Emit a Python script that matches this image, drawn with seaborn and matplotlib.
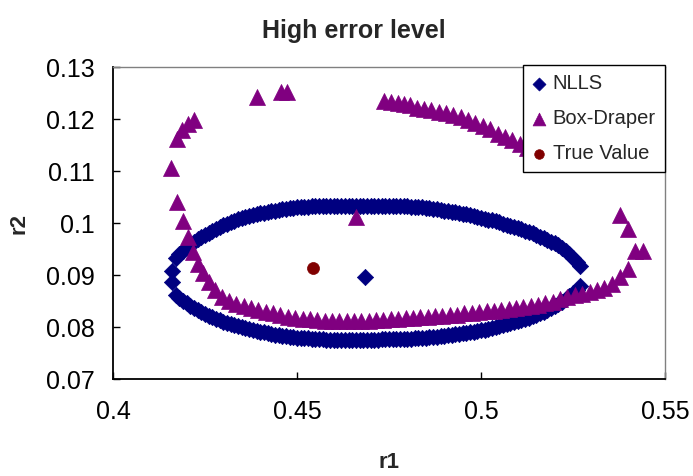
import numpy as np
import pandas as pd
import matplotlib
matplotlib.use("Agg")
import matplotlib.pyplot as plt
import seaborn as sns

# ---------------- data ----------------
nlls_r1 = [0.416, 0.417, 0.418, 0.419, 0.420, 0.421, 0.422, 0.423, 0.424, 0.425,
           0.426, 0.427, 0.428, 0.429, 0.430, 0.431, 0.432, 0.433, 0.434, 0.435,
           0.436, 0.437, 0.438, 0.439, 0.440, 0.441, 0.442, 0.443, 0.444, 0.445,
           0.446, 0.447, 0.448, 0.449, 0.450, 0.451, 0.452, 0.453, 0.454, 0.455,
           0.456, 0.457, 0.458, 0.459, 0.460, 0.461, 0.462, 0.463, 0.464, 0.465,
           0.466, 0.467, 0.468, 0.469, 0.470, 0.471, 0.472, 0.473, 0.474, 0.475,
           0.476, 0.477, 0.478, 0.479, 0.480, 0.481, 0.482, 0.483, 0.484, 0.485,
           0.486, 0.487, 0.488, 0.489, 0.490, 0.491, 0.492, 0.493, 0.494, 0.495,
           0.496, 0.497, 0.498, 0.499, 0.500, 0.501, 0.502, 0.503, 0.504, 0.505,
           0.506, 0.507, 0.508, 0.509, 0.510, 0.511, 0.512, 0.513, 0.514, 0.515,
           0.516, 0.517, 0.518, 0.519, 0.520, 0.521, 0.522, 0.523, 0.524, 0.525,
           0.526, 0.527]
nlls_upper_r2 = [0.0908, 0.0932, 0.0940, 0.0947, 0.0953, 0.0959, 0.0964, 0.0969, 0.0973, 0.0977,
                 0.0981, 0.0985, 0.0989, 0.0992, 0.0996, 0.0999, 0.1002, 0.1004, 0.1007, 0.1009,
                 0.1011, 0.1013, 0.1015, 0.1017, 0.1019, 0.1020, 0.1022, 0.1023, 0.1024, 0.1025,
                 0.1026, 0.1027, 0.1028, 0.1029, 0.1030, 0.1030, 0.1031, 0.1031, 0.1032, 0.1032,
                 0.1032, 0.1033, 0.1033, 0.1033, 0.1033, 0.1033, 0.1033, 0.1033, 0.1033, 0.1033,
                 0.1033, 0.1033, 0.1033, 0.1033, 0.1033, 0.1033, 0.1033, 0.1033, 0.1033, 0.1033,
                 0.1033, 0.1032, 0.1032, 0.1032, 0.1032, 0.1031, 0.1031, 0.1031, 0.1030, 0.1029,
                 0.1028, 0.1027, 0.1026, 0.1025, 0.1024, 0.1023, 0.1022, 0.1021, 0.1020, 0.1018,
                 0.1017, 0.1015, 0.1014, 0.1012, 0.1010, 0.1008, 0.1006, 0.1005, 0.1003, 0.1001,
                 0.0999, 0.0997, 0.0995, 0.0993, 0.0990, 0.0988, 0.0985, 0.0983, 0.0980, 0.0977,
                 0.0974, 0.0971, 0.0968, 0.0964, 0.0961, 0.0957, 0.0952, 0.0946, 0.0940, 0.0933,
                 0.0925, 0.0917]
nlls_lower_r2 = [0.0886, 0.0862, 0.0855, 0.0850, 0.0846, 0.0841, 0.0836, 0.0832, 0.0828, 0.0825,
                 0.0822, 0.0819, 0.0816, 0.0813, 0.0810, 0.0808, 0.0806, 0.0804, 0.0802, 0.0800,
                 0.0798, 0.0796, 0.0794, 0.0793, 0.0791, 0.0790, 0.0788, 0.0787, 0.0785, 0.0784,
                 0.0783, 0.0782, 0.0781, 0.0780, 0.0779, 0.0779, 0.0778, 0.0778, 0.0777, 0.0777,
                 0.0776, 0.0776, 0.0775, 0.0775, 0.0775, 0.0775, 0.0775, 0.0775, 0.0775, 0.0775,
                 0.0775, 0.0775, 0.0775, 0.0775, 0.0775, 0.0775, 0.0775, 0.0776, 0.0776, 0.0776,
                 0.0776, 0.0777, 0.0777, 0.0777, 0.0777, 0.0777, 0.0778, 0.0778, 0.0778, 0.0779,
                 0.0780, 0.0780, 0.0781, 0.0782, 0.0783, 0.0784, 0.0785, 0.0786, 0.0787, 0.0788,
                 0.0789, 0.0790, 0.0791, 0.0793, 0.0794, 0.0795, 0.0797, 0.0798, 0.0800, 0.0801,
                 0.0803, 0.0805, 0.0807, 0.0809, 0.0811, 0.0813, 0.0816, 0.0818, 0.0821, 0.0824,
                 0.0826, 0.0829, 0.0833, 0.0836, 0.0840, 0.0844, 0.0849, 0.0854, 0.0860, 0.0866,
                 0.0872, 0.0879]
nlls_extra_r1 = [0.4685]
nlls_extra_r2 = [0.0896]

bd_left_r1 = [0.4157, 0.4173, 0.4189, 0.4204, 0.4218, 0.4232, 0.4245, 0.4262, 0.4277,
              0.4173, 0.4188, 0.4205, 0.4220, 0.4390, 0.4457, 0.4472, 0.4660]
bd_left_r2 = [0.1106, 0.1041, 0.1003, 0.0974, 0.0945, 0.0922, 0.0903, 0.0886, 0.0871,
              0.1161, 0.1179, 0.1190, 0.1199, 0.1242, 0.1251, 0.1251, 0.1012]
bd_low_r1 = [0.4295, 0.4315, 0.4335, 0.4355, 0.4375, 0.4395, 0.4415, 0.4435, 0.4455, 0.4475,
             0.4495, 0.4515, 0.4535, 0.4555, 0.4575, 0.4595, 0.4615, 0.4635, 0.4655, 0.4675,
             0.4695, 0.4715, 0.4735, 0.4755, 0.4775, 0.4795, 0.4815, 0.4835, 0.4855, 0.4875,
             0.4895, 0.4915, 0.4935, 0.4955, 0.4975, 0.4995, 0.5015, 0.5035, 0.5055, 0.5075,
             0.5095, 0.5115, 0.5135, 0.5155, 0.5175, 0.5195, 0.5215, 0.5235, 0.5255, 0.5275,
             0.5295, 0.5315, 0.5335, 0.5355, 0.5378, 0.5400, 0.5418, 0.5439, 0.5399, 0.5378]
bd_low_r2 = [0.0858, 0.0850, 0.0845, 0.0840, 0.0836, 0.0832, 0.0829, 0.0826, 0.0823, 0.0820,
             0.0818, 0.0816, 0.0815, 0.0813, 0.0812, 0.0812, 0.0811, 0.0811, 0.0811, 0.0812,
             0.0812, 0.0813, 0.0814, 0.0815, 0.0816, 0.0817, 0.0818, 0.0819, 0.0820, 0.0821,
             0.0822, 0.0823, 0.0824, 0.0826, 0.0827, 0.0828, 0.0830, 0.0831, 0.0833, 0.0834,
             0.0836, 0.0838, 0.0840, 0.0843, 0.0846, 0.0849, 0.0853, 0.0857, 0.0861, 0.0864,
             0.0867, 0.0871, 0.0875, 0.0882, 0.0897, 0.0911, 0.0947, 0.0947, 0.0988, 0.1015]
bd_arc_r1 = [0.4737, 0.4755, 0.4775, 0.4792, 0.4807, 0.4825, 0.4845, 0.4865, 0.4885, 0.4905,
             0.4925, 0.4945, 0.4965, 0.4985, 0.5005, 0.5025, 0.5045, 0.5065, 0.5085, 0.5105,
             0.5125, 0.5145, 0.5165]
bd_arc_r2 = [0.1235, 0.1233, 0.1230, 0.1229, 0.1226, 0.1222, 0.1220, 0.1217, 0.1214, 0.1211,
             0.1207, 0.1203, 0.1198, 0.1193, 0.1187, 0.1181, 0.1171, 0.1165, 0.1160, 0.1152,
             0.1145, 0.1137, 0.1128]

true_r1 = [0.4544]
true_r2 = [0.0913]

series_names = ["NLLS", "Box-Draper", "True Value"]
x_ticks = [0.4, 0.45, 0.5, 0.55]
x_ticklabels = ["0.4", "0.45", "0.5", "0.55"]
y_ticks = [0.07, 0.08, 0.09, 0.1, 0.11, 0.12, 0.13]
y_ticklabels = ["0.07", "0.08", "0.09", "0.1", "0.11", "0.12", "0.13"]

# ---------------- build frames ----------------
nlls = pd.DataFrame({"r1": nlls_r1 + nlls_r1 + nlls_extra_r1,
                     "r2": nlls_upper_r2 + nlls_lower_r2 + nlls_extra_r2})
bd = pd.DataFrame({"r1": bd_left_r1 + bd_low_r1 + bd_arc_r1,
                   "r2": bd_left_r2 + bd_low_r2 + bd_arc_r2})
tv = pd.DataFrame({"r1": true_r1, "r2": true_r2})

sns.set_style("white")
plt.rcParams["font.family"] = ["Liberation Sans", "DejaVu Sans"]

W, H = 693, 476
fig = plt.figure(figsize=(W / 100, H / 100), dpi=100)
L, R, T, B = 113, 665, 67, 379
ax = fig.add_axes([L / W, 1 - B / H, (R - L) / W, (B - T) / H])

navy = "#000080"
purple = "#800080"
maroon = "#800000"
px = 72 / 100  # points per pixel

sns.scatterplot(data=nlls, x="r1", y="r2", ax=ax, marker="D", color=navy,
                s=(11.5 * px) ** 2, edgecolor=navy, linewidth=0.5, label=series_names[0], zorder=3)
sns.scatterplot(data=bd, x="r1", y="r2", ax=ax, marker="^", color=purple,
                s=(16 * px) ** 2, edgecolor=purple, linewidth=0.5, label=series_names[1], zorder=4)
sns.scatterplot(data=tv, x="r1", y="r2", ax=ax, marker="o", color=maroon,
                s=(12 * px) ** 2, edgecolor=maroon, linewidth=0.5, label=series_names[2], zorder=5)

ax.set_xlim(0.4, 0.55)
ax.set_ylim(0.07, 0.13)
ax.set_xticks(x_ticks)
ax.set_xticklabels(x_ticklabels)
ax.set_yticks(y_ticks)
ax.set_yticklabels(y_ticklabels)

tick_fs = 18
ax.tick_params(axis="both", which="major", direction="in", length=5, width=1,
               color="black", labelsize=tick_fs, labelcolor="black",
               bottom=True, left=True, top=False, right=False)
ax.tick_params(axis="x", pad=15)
ax.tick_params(axis="y", pad=13)

for side in ["left", "bottom"]:
    ax.spines[side].set_color("black")
    ax.spines[side].set_linewidth(1.3)
for side in ["top", "right"]:
    ax.spines[side].set_color("#808080")
    ax.spines[side].set_linewidth(1.0)

ax.set_xlabel("")
ax.set_ylabel("")
fig.text(389 / W, 1 - 463 / H, "r1", ha="center", va="center", fontsize=16, fontweight="bold")
fig.text(18.5 / W, 1 - 223 / H, "r2", ha="center", va="center", rotation=90,
         fontsize=16, fontweight="bold")
fig.text(354 / W, 1 - 38 / H, "High error level", ha="center", va="baseline",
         fontsize=18, fontweight="bold")

leg = ax.legend(loc="upper right", bbox_to_anchor=(1.0, 1.007), borderaxespad=0,
                frameon=True, fancybox=False, fontsize=14.5, handlelength=0.7,
                handletextpad=0.35, labelspacing=0.8, borderpad=0.45,
                markerscale=0.8)
leg.get_frame().set_edgecolor("black")
leg.get_frame().set_linewidth(1.0)
leg.get_frame().set_alpha(1.0)
leg.set_zorder(10)

fig.savefig("out.png", dpi=100)
